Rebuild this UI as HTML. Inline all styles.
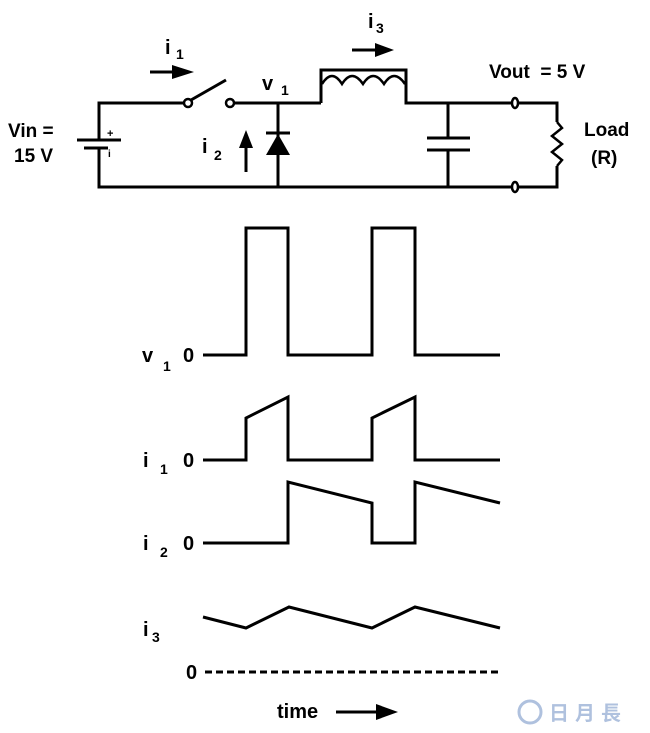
<!DOCTYPE html>
<html><head><style>
html,body{margin:0;padding:0;background:#fff;}
svg{display:block;}
text{font-family:"Liberation Sans",Arial,sans-serif;font-weight:bold;fill:#000;}
</style></head><body>
<svg width="650" height="733" viewBox="0 0 650 733" xmlns="http://www.w3.org/2000/svg">
<g stroke="#000" stroke-width="3" fill="none">
<!-- circuit -->
<polyline points="185,103 99,103 99,139"/>
<polyline points="99,148 99,187 552,187"/>
<line x1="77" y1="140" x2="121" y2="140"/>
<line x1="84" y1="148" x2="108" y2="148"/>
<line x1="234" y1="103" x2="321" y2="103"/>
<line x1="191" y1="100" x2="226" y2="80"/>
<polyline points="321,103 321,70 406,70 406,103 511,103"/>
<path d="M322,84 q10,-16 20,0 q10,-16 21,0 q10,-16 21,0 q10,-16 21,0" stroke-width="2.5"/>
<line x1="278" y1="103" x2="278" y2="187"/>
<line x1="266" y1="133" x2="290" y2="133"/>
<line x1="448" y1="103" x2="448" y2="138"/>
<line x1="448" y1="150" x2="448" y2="187"/>
<line x1="427" y1="138" x2="470" y2="138"/>
<line x1="427" y1="150" x2="470" y2="150"/>
<polyline points="518,103 557,103 557,122"/>
<polyline points="557,166 557,187 518,187"/>
<polyline points="557,122 562,128 552,136 562,144 552,152 562,160 557,166" stroke-width="2.5"/>
<line x1="246" y1="172" x2="246" y2="145"/>
<line x1="150" y1="72" x2="175" y2="72"/>
<line x1="352" y1="50" x2="378" y2="50"/>
<circle cx="188" cy="103" r="4" stroke-width="2.5" fill="#fff"/>
<circle cx="230" cy="103" r="4" stroke-width="2.5" fill="#fff"/>
<ellipse cx="515" cy="103" rx="3" ry="5" stroke-width="2.5" fill="#fff"/>
<ellipse cx="515" cy="187" rx="3" ry="5" stroke-width="2.5" fill="#fff"/>
<!-- waveforms -->
<polyline points="203,355 246,355 246,228 288,228 288,355 372,355 372,228 415,228 415,355 500,355"/>
<polyline points="203,460 246,460 246,418 288,397 288,460 372,460 372,418 415,397 415,460 500,460"/>
<polyline points="203,543 288,543 288,482 372,503 372,543 415,543 415,482 500,503"/>
<polyline points="203,617 246,628 289,607 372,628 415,607 500,628"/>
<line x1="205" y1="672" x2="500" y2="672" stroke-dasharray="7,4"/>
<line x1="336" y1="712" x2="380" y2="712"/>
</g>
<g fill="#000">
<polygon points="266,155 290,155 278,134"/>
<polygon points="239,148 253,148 246,130"/>
<polygon points="172,65 194,72 172,79"/>
<polygon points="375,43 394,50 375,57"/>
<polygon points="376,704 398,712 376,720"/>
</g>
<text x="107" y="137" font-size="11">+</text>
<text x="108" y="157" font-size="10">i</text>
<text x="8" y="137" font-size="19">Vin =</text>
<text x="14" y="162" font-size="19">15 V</text>
<text x="165" y="54" font-size="20">i</text><text x="176" y="59" font-size="14">1</text>
<text x="368" y="28" font-size="20">i</text><text x="376" y="33" font-size="14">3</text>
<text x="262" y="90" font-size="20">v</text><text x="281" y="95" font-size="14">1</text>
<text x="202" y="153" font-size="20">i</text><text x="214" y="160" font-size="14">2</text>
<text x="489" y="78" font-size="19">Vout&#160; = 5 V</text>
<text x="584" y="136" font-size="19">Load</text>
<text x="591" y="164" font-size="19">(R)</text>
<text x="142" y="362" font-size="20">v</text><text x="163" y="371" font-size="14">1</text>
<text x="183" y="362" font-size="20">0</text>
<text x="143" y="467" font-size="20">i</text><text x="160" y="474" font-size="14">1</text>
<text x="183" y="467" font-size="20">0</text>
<text x="143" y="550" font-size="20">i</text><text x="160" y="557" font-size="14">2</text>
<text x="183" y="550" font-size="20">0</text>
<text x="143" y="636" font-size="20">i</text><text x="152" y="642" font-size="14">3</text>
<text x="186" y="679" font-size="20">0</text>
<text x="277" y="718" font-size="20">time</text>
<g opacity="0.55">
<circle cx="530" cy="712" r="11" fill="none" stroke="#6f8fc4" stroke-width="3"/>
<text x="549" y="720" font-size="20" style="fill:#6f8fc4;font-family:'Liberation Sans','Noto Sans CJK SC',sans-serif;letter-spacing:6px">日月長</text>
</g>
</svg>
</body></html>
